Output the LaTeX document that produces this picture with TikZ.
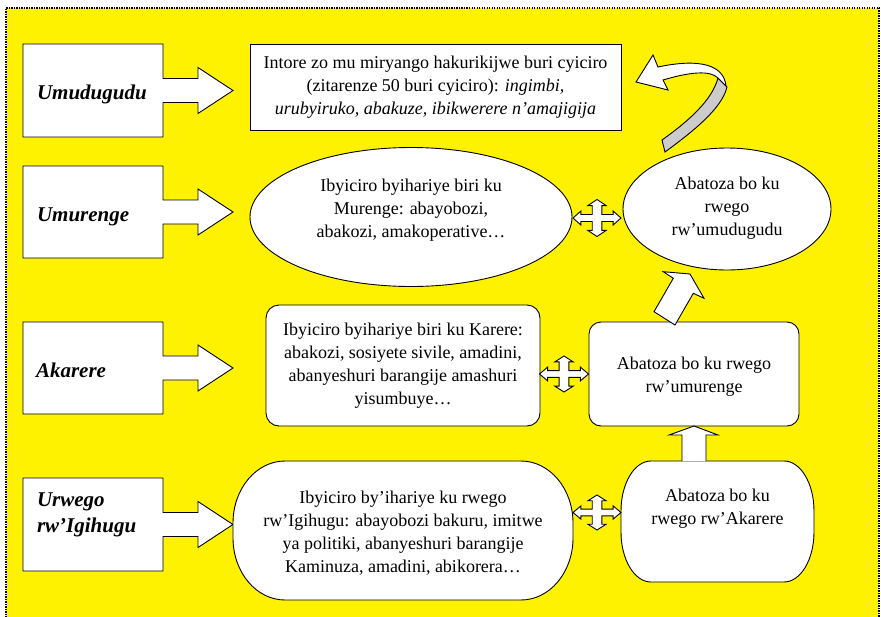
\documentclass[tikz,border=0pt]{standalone}
\usepackage{fontspec}
\setmainfont{Liberation Serif}
\usetikzlibrary{shapes.geometric,calc}
\newcommand{\lcallout}[2]{%
  \draw[shp] (23,#1) -- (163,#1) -- (163,{(#1+#2)/2-12}) -- (198,{(#1+#2)/2-12}) -- (198,{(#1+#2)/2-23}) -- (233,{(#1+#2)/2}) -- (198,{(#1+#2)/2+23}) -- (198,{(#1+#2)/2+12}) -- (163,{(#1+#2)/2+12}) -- (163,#2) -- (23,#2) -- cycle;}
\newcommand{\quadarr}[4]{%
  \begin{scope}[shift={(#1,#2)}, xscale=#3, yscale=#4]
  \draw[shp] (1,0) -- (0.67,0.38) -- (0.67,0.19) -- (0.2,0.19) -- (0.2,0.67) -- (0.38,0.67) -- (0,1) -- (-0.38,0.67) -- (-0.2,0.67) -- (-0.2,0.19) -- (-0.67,0.19) -- (-0.67,0.38) -- (-1,0) -- (-0.67,-0.38) -- (-0.67,-0.19) -- (-0.2,-0.19) -- (-0.2,-0.67) -- (-0.38,-0.67) -- (0,-1) -- (0.38,-0.67) -- (0.2,-0.67) -- (0.2,-0.19) -- (0.67,-0.19) -- (0.67,-0.38) -- cycle;
  \end{scope}}
\newcommand{\ellrect}[6]{%
  \draw[shp] (#1+#5,#2) -- (#3-#5,#2) arc[start angle=-90, end angle=0, x radius=#5, y radius=#6]
    -- (#3,#4-#6) arc[start angle=0, end angle=90, x radius=#5, y radius=#6]
    -- (#1+#5,#4) arc[start angle=90, end angle=180, x radius=#5, y radius=#6]
    -- (#1,#2+#6) arc[start angle=180, end angle=270, x radius=#5, y radius=#6] -- cycle;}
\begin{document}
\begin{tikzpicture}[x=1pt,y=-1pt,
  every node/.style={inner sep=0pt, outer sep=0pt},
  shp/.style={draw=black, fill=white, line width=0.9pt, line join=miter},
  body/.style={font=\fontsize{18}{23}\selectfont, align=center},
  lab/.style={font=\fontsize{21}{26}\selectfont\bfseries\itshape, align=left},
]
\useasboundingbox (0,0) rectangle (881,616);
\fill[yellow] (6,8) rectangle (879,630);
\draw[line width=1.4pt, dash pattern=on 1.3pt off 1.2pt] (6,630) -- (6,8) -- (879,8) -- (879,630);

% left label callouts
\lcallout{44}{137}
\lcallout{166}{258}
\lcallout{322}{414}
\lcallout{478}{571}
\node[lab, anchor=base west] (l1) at (37,99) {Umudugudu};
\node[lab, anchor=base west] (l2) at (37,221) {Umurenge};
\node[lab, anchor=base west] (l3) at (36,377) {Akarere};
\node[lab, anchor=north west] (l4) at (37,493) {Urwego\\rw’Igihugu};

% top box
\node[shp, minimum width=371pt, minimum height=86pt, body] (top) at (435.5,87)
  {Intore zo mu miryango hakurikijwe buri cyiciro\\(zitarenze 50 buri cyiciro): \textit{ingimbi,}\\\textit{urubyiruko, abakuze, ibikwerere n’amajigija}};

% Umurenge row
\node[shp, ellipse, minimum width=322pt, minimum height=139pt] (ell1) at (411,217) {};
\node[body] (tell1) at (411,210) {Ibyiciro byihariye biri ku\\Murenge: abayobozi,\\abakozi, amakoperative…};
\node[shp, ellipse, minimum width=208pt, minimum height=122pt] (ell2) at (727,209) {};
\node[body] (tell2) at (727,208.5) {Abatoza bo ku\\rwego\\rw’umudugudu};

% Akarere row
\node[shp, rounded corners=13pt, minimum width=274pt, minimum height=121pt, body] (rr1) at (403,365.5)
  {Ibyiciro byihariye biri ku Karere:\\abakozi, sosiyete sivile, amadini,\\abanyeshuri barangije amashuri\\yisumbuye…};
\node[shp, rounded corners=12pt, minimum width=210pt, minimum height=104pt] (rr2) at (694,374) {};
\node[body] (trr2) at (694,377) {Abatoza bo ku rwego\\rw’umurenge};

% Igihugu row
\ellrect{233}{461}{573}{600}{52}{62}
\node[body] (tig1) at (403,533) {Ibyiciro by’ihariye ku rwego\\rw’Igihugu: abayobozi bakuru, imitwe\\ya politiki, abanyeshuri barangije\\Kaminuza, amadini, abikorera…};
\ellrect{621}{461}{814}{582}{30}{50}
\node[body] (tig2) at (717.5,509) {Abatoza bo ku\\rwego rw’Akarere};

% quad arrows
\quadarr{597}{218}{24}{18.5}
\quadarr{564}{374}{24.5}{18}
\quadarr{597}{512.5}{24}{17.5}

% up arrow
\draw[shp] (682,461) -- (682,435) -- (669,435) -- (694,426) -- (718,435) -- (706,435) -- (706,461);
% diagonal arrow
\draw[shp] (654,311.7) -- (673.3,278.3) -- (663.3,271.7) -- (690,274) -- (704,298.3) -- (693.3,293.3) -- (675,325) -- cycle;
% curved arrow
\draw[shp, fill=gray!40] (718,78) .. controls (712,100) and (690,120) .. (662,140) -- (665,152) .. controls (695,130) and (722,108) .. (727,87) -- cycle;
\draw[shp] (726,86) .. controls (724,65) and (700,58) .. (658,67) -- (653,55) -- (636,82) -- (668,90) -- (663,80) .. controls (690,72) and (710,70) .. (718,78) -- cycle;
\end{tikzpicture}
\end{document}
